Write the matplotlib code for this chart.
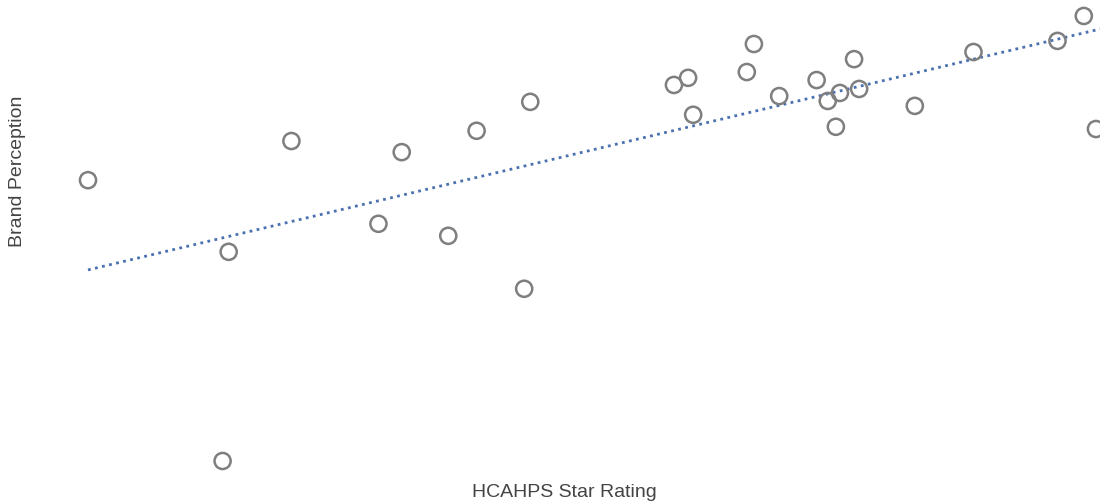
import matplotlib
matplotlib.use("Agg")
import matplotlib.pyplot as plt
import numpy as np

# Values (no scale shown, so 0-100 relative units)
star_rating = [0.0, 13.9, 13.3, 20.1, 28.7, 31.0, 35.6, 38.4, 43.1, 43.7,
               57.9, 59.3, 59.8, 65.1, 65.8, 68.3, 72.0, 73.1, 74.3, 73.9,
               75.7, 76.2, 81.7, 87.5, 95.8, 98.4, 99.6]
brand_perception = [63.1, 47.0, 0.0, 71.9, 53.3, 69.4, 50.6, 74.2, 38.7, 80.7,
                    84.5, 86.1, 77.8, 87.4, 93.7, 82.0, 85.6, 80.9, 82.7, 75.1,
                    90.3, 83.6, 79.8, 91.9, 94.4, 100.0, 74.6]

x = np.array(star_rating)
y = np.array(brand_perception)

# linear trend line
slope, intercept = np.polyfit(x, y, 1)
x_fit = np.array([0.0, 100.0])
y_fit = slope * x_fit + intercept

fig = plt.figure(figsize=(11, 5.02), dpi=100)
ax = fig.add_axes([0.08, 0.0797, 0.92, 0.8865])
ax.plot(x_fit, y_fit, color="#4a70b0", linewidth=2.0,
        linestyle=(0, (1, 1.6)), clip_on=False, zorder=1)
ax.scatter(x, y, s=135, facecolors="none", edgecolors="#7f7f7f",
           linewidths=1.8, clip_on=False, zorder=2)

ax.set_xlim(0, 100)
ax.set_ylim(0, 100)
ax.axis("off")

font = ["Liberation Sans", "DejaVu Sans"]
fig.text(564 / 1100, 1 - 493 / 502, "HCAHPS Star Rating", ha="center",
         va="center", fontsize=14, color="#444444", family=font)
fig.text(17.5 / 1100, 1 - 171 / 502, "Brand Perception", ha="center",
         va="center", rotation=90, fontsize=14, color="#444444", family=font)

fig.savefig("out.png", dpi=100, facecolor="white")
